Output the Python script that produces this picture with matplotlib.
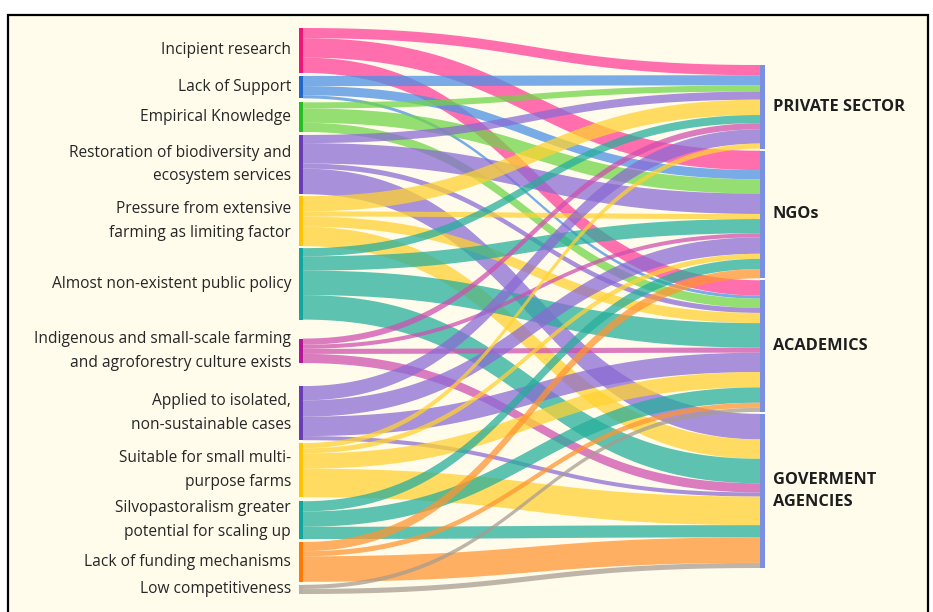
import numpy as np
import matplotlib.pyplot as plt
from matplotlib.patches import Polygon, Rectangle

plt.rcParams['font.family'] = ['Open Sans', 'DejaVu Sans']

sources = [
    "Incipient research",
    "Lack of Support",
    "Empirical Knowledge",
    "Restoration of biodiversity and\necosystem services",
    "Pressure from extensive\nfarming as limiting factor",
    "Almost non-existent public policy",
    "Indigenous and small-scale farming\nand agroforestry culture exists",
    "Applied to isolated,\nnon-sustainable cases",
    "Suitable for small multi-\npurpose farms",
    "Silvopastoralism greater\npotential for scaling up",
    "Lack of funding mechanisms",
    "Low competitiveness",
]
targets = ["PRIVATE SECTOR", "NGOs", "ACADEMICS", "GOVERMENT\nAGENCIES"]

# flow sizes from each source to each target
private = [10, 10, 6, 8, 15, 8, 6, 14, 5, 0, 0, 0]
ngos = [19, 9, 14, 20, 5, 14, 4, 16, 5, 10, 9, 0]
academics = [15, 3, 9, 5, 10, 24, 5, 19, 15, 15, 5, 4]
government = [0, 0, 0, 25, 19, 24, 9, 4, 28, 12, 25, 5]

link_colors = ['#ff3d98', '#4a90e6', '#6fd448', '#8a6ad4', '#ffd230', '#26ae9c',
               '#cf4fb0', '#8a6ad4', '#ffd230', '#26ae9c', '#ff9530', '#a89c90']
node_colors = ['#f0157a', '#2266d0', '#22c022', '#6a3cb8', '#ffc400', '#10a89e',
               '#b8139a', '#6a3cb8', '#ffc400', '#10a89e', '#ff7a00', '#b8b0a8']
target_color = '#7b8ee0'

flows = np.array([private, ngos, academics, government]).T  # (source, target)

# layout in pixel space
W, H = 933, 612
x_left, x_right = 299, 760
node_w_left, node_w_right = 4, 5
scale = 497 / flows.sum()
left_top = 28
left_gaps = [3, 4, 3, 2, 2, 19, 23, 3, 4, 3, 3]
right_top = 65
right_gap = 2

fig = plt.figure(figsize=(W / 100, H / 100), dpi=100)
fig.patch.set_facecolor('white')
ax = fig.add_axes([0, 0, 1, 1])
ax.set_xlim(0, W)
ax.set_ylim(H, 0)
ax.axis('off')

ax.add_patch(Rectangle((8, 15), 920, 610, facecolor='#fffcec', edgecolor='black', lw=1.6, zorder=0))

src_tot = flows.sum(axis=1) * scale
tgt_tot = flows.sum(axis=0) * scale

src_y = [left_top]
for i, g in enumerate(left_gaps):
    src_y.append(src_y[-1] + src_tot[i] + g)
tgt_y = [right_top]
for j in range(3):
    tgt_y.append(tgt_y[-1] + tgt_tot[j] + right_gap)

# links: cubic bezier bands, stacked by target order at the source
# and by source order at the target
t = np.linspace(0, 1, 80)
bx = 1.5 * t - 1.5 * t ** 2 + t ** 3
by = 3 * t ** 2 - 2 * t ** 3
x0 = x_left + node_w_left
dx = x_right - x0
tgt_start = np.zeros_like(flows, dtype=float)
for j in range(4):
    c = tgt_y[j]
    for i in range(len(sources)):
        tgt_start[i, j] = c
        c += flows[i, j] * scale
for i in range(len(sources)):
    c = src_y[i]
    for j in range(4):
        h = flows[i, j] * scale
        if h <= 0:
            continue
        ya, yb = c, tgt_start[i, j]
        xs = x0 + dx * bx
        top = ya + (yb - ya) * by
        bot = top + h
        pts = np.vstack([np.column_stack([xs, top]), np.column_stack([xs[::-1], bot[::-1]])])
        ax.add_patch(Polygon(pts, closed=True, facecolor=link_colors[i], edgecolor='none',
                             alpha=0.74, zorder=1))
        c += h

# nodes and labels
for i, name in enumerate(sources):
    ax.add_patch(Rectangle((x_left, src_y[i]), node_w_left, src_tot[i],
                           facecolor=node_colors[i], edgecolor='none', zorder=2))
    ax.text(x_left - 8, src_y[i] + src_tot[i] / 2, name, ha='right', va='center',
            fontsize=11.2, color='#262626', linespacing=1.62, zorder=3)

for j, name in enumerate(targets):
    ax.add_patch(Rectangle((x_right, tgt_y[j]), node_w_right, tgt_tot[j],
                           facecolor=target_color, edgecolor='none', zorder=2))
    ax.text(x_right + 13, tgt_y[j] + tgt_tot[j] / 2, name, ha='left', va='center',
            fontsize=11.8, fontweight='bold', color='#1e1e1e', linespacing=1.5, zorder=3)

fig.savefig('out.png', dpi=100)
